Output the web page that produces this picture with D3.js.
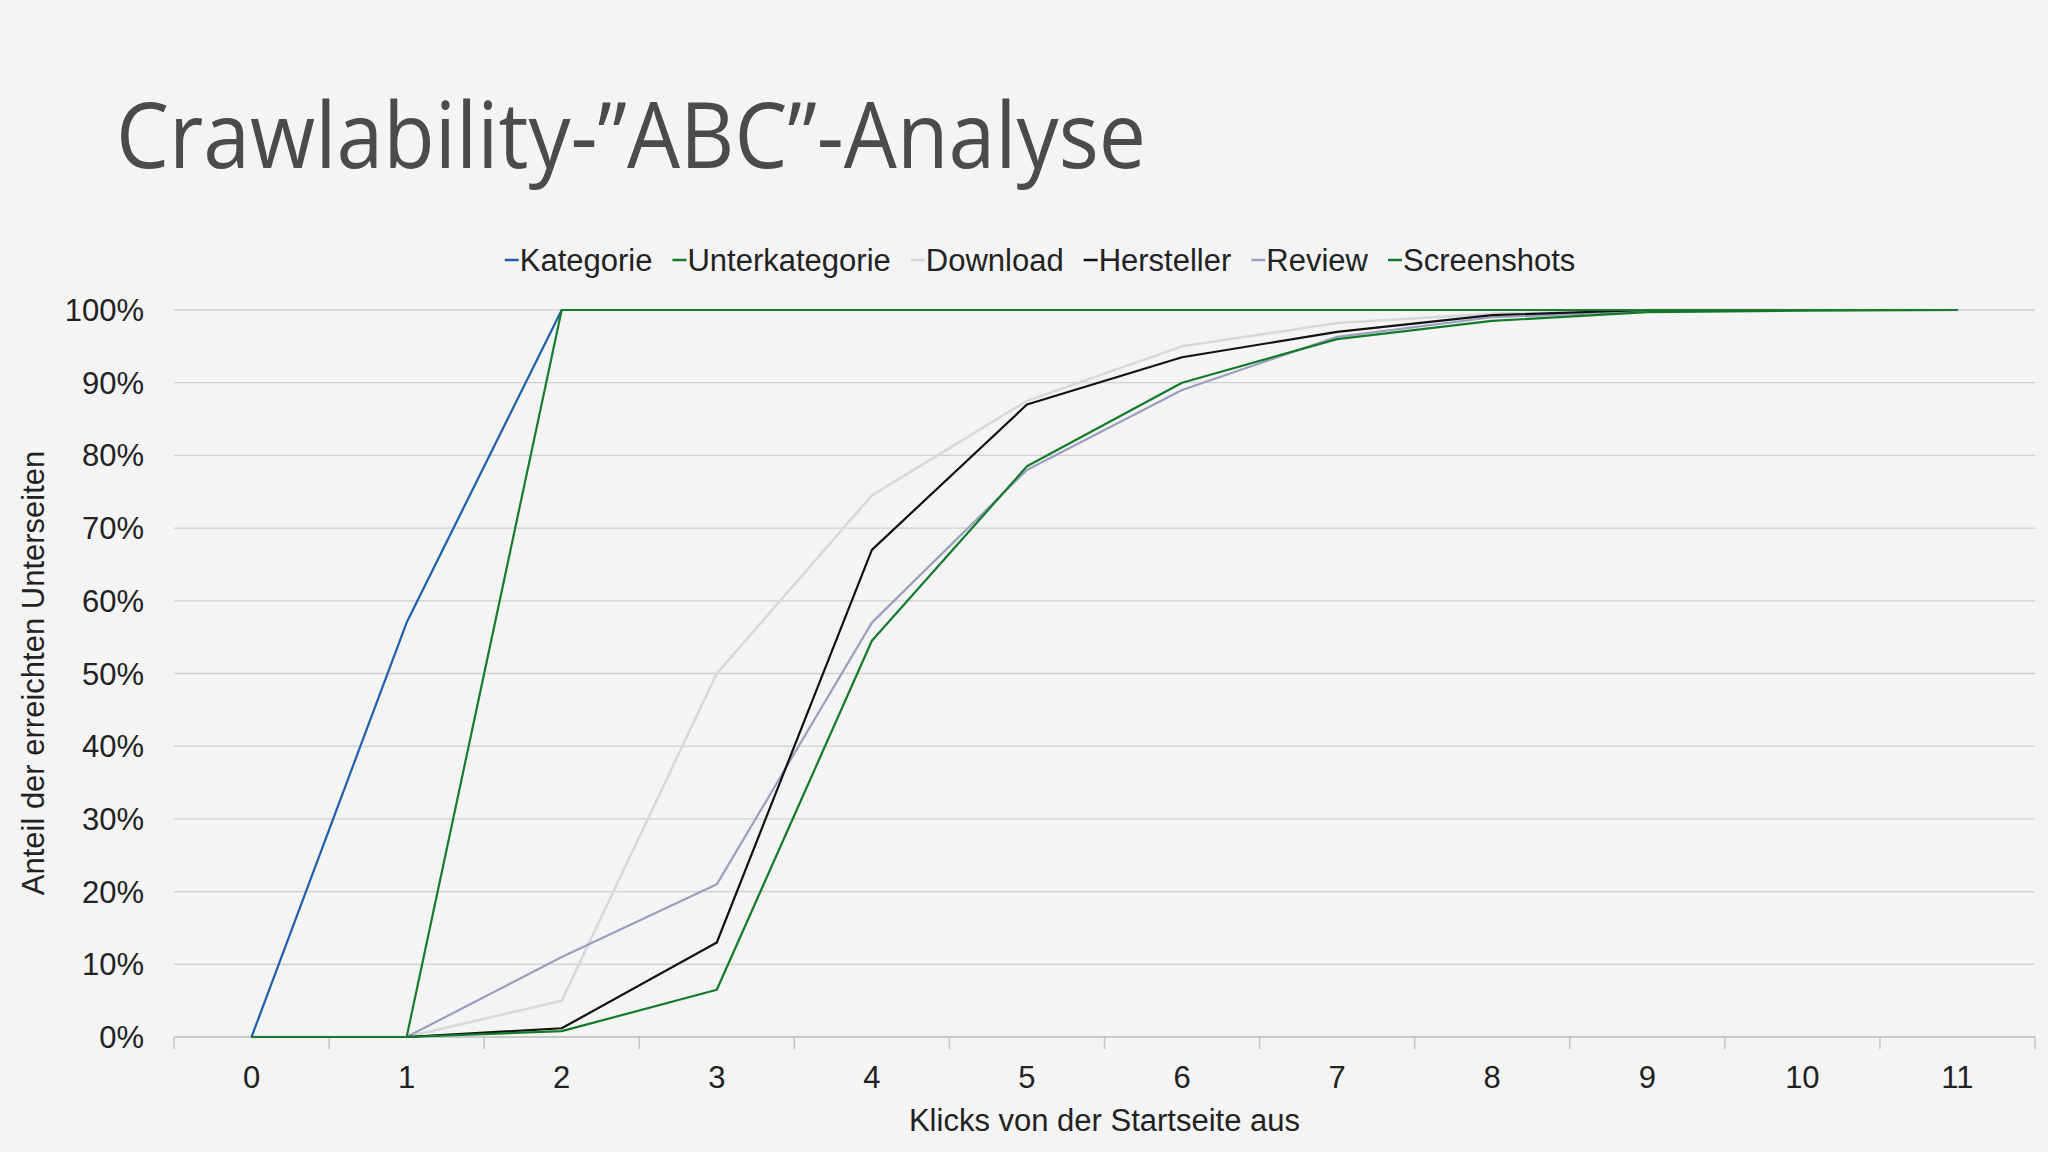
<!DOCTYPE html>
<html><head><meta charset="utf-8">
<script src="https://cdn.jsdelivr.net/npm/d3@7"></script>
<style>body{margin:0;background:#f4f4f4;}svg{display:block;}</style>
</head><body>
<svg id="chart" width="2048" height="1152"></svg>
<script>
// Crawlability chart
const clicks = ['0','1','2','3','4','5','6','7','8','9','10','11'];
const seriesNames = ['Kategorie','Unterkategorie','Download','Hersteller','Review','Screenshots'];
const seriesColors = ['#1f5fa8','#1a7a2e','#d8d8dc','#111111','#9a9fbe','#137a2a'];
const kategorie = [0,57,100,100,100,100,100,100,100,100,100,100];
const unterkategorie = [0,0,100,100,100,100,100,100,100,100,100,100];
const download = [0,0,5,50,74.5,87.5,95,98.2,99.5,100,100,100];
const hersteller = [0,0,1.2,13,67,87,93.5,97,99.3,100,100,100];
const review = [0,0,11,21,57,78,89,96.3,99,99.8,100,100];
const screenshots = [0,0,0.8,6.5,54.5,78.5,90,96,98.5,99.7,99.9,100];
const yTicks = [0,10,20,30,40,50,60,70,80,90,100];

const allSeries = [kategorie, unterkategorie, download, hersteller, review, screenshots];
const drawOrder = [2,4,3,5,0,1];

const svg = d3.select('#chart');
const plotLeft = 174, plotRight = 2035, plotTop = 310, plotBottom = 1037;

svg.append('text').attr('x', 116).attr('y', 168)
  .attr('font-family', 'Open Sans').attr('font-size', 92).attr('fill', '#4b4b4b')
  .attr('textLength', 1030).attr('lengthAdjust', 'spacingAndGlyphs')
  .text('Crawlability-”ABC”-Analyse');

const x = d3.scalePoint().domain(clicks).range([plotLeft, plotRight]).padding(0.5);
const y = d3.scaleLinear().domain([0, 100]).range([plotBottom, plotTop]);

// grid
svg.append('g').selectAll('line').data(yTicks).join('line')
  .attr('x1', plotLeft).attr('x2', plotRight).attr('y1', d => y(d)).attr('y2', d => y(d))
  .attr('stroke', '#cfcfcf').attr('stroke-width', 1.3);

// x axis
const step = x.step();
svg.append('line').attr('x1', plotLeft).attr('x2', plotRight).attr('y1', plotBottom).attr('y2', plotBottom)
  .attr('stroke', '#c4c4c4').attr('stroke-width', 1.5);
svg.append('g').selectAll('line').data(d3.range(clicks.length + 1)).join('line')
  .attr('x1', i => plotLeft + i * step).attr('x2', i => plotLeft + i * step)
  .attr('y1', plotBottom).attr('y2', plotBottom + 12).attr('stroke', '#c4c4c4').attr('stroke-width', 1.5);
svg.append('g').selectAll('text').data(clicks).join('text')
  .attr('x', d => x(d)).attr('y', 1088).attr('text-anchor', 'middle')
  .attr('font-family', 'Liberation Sans').attr('font-size', 31).attr('fill', '#222')
  .text(d => d);

svg.append('g').selectAll('text').data(yTicks).join('text')
  .attr('x', 144).attr('y', d => y(d) + 11).attr('text-anchor', 'end')
  .attr('font-family', 'Liberation Sans').attr('font-size', 31).attr('fill', '#222')
  .text(d => d + '%');

svg.append('text').attr('x', (plotLeft + plotRight) / 2).attr('y', 1131).attr('text-anchor', 'middle')
  .attr('font-family', 'Liberation Sans').attr('font-size', 31).attr('fill', '#222')
  .text('Klicks von der Startseite aus');
svg.append('text').attr('transform', 'translate(44,673) rotate(-90)').attr('text-anchor', 'middle')
  .attr('font-family', 'Liberation Sans').attr('font-size', 31).attr('fill', '#222')
  .text('Anteil der erreichten Unterseiten');

// lines
const line = d3.line().x((d, i) => x(clicks[i])).y(d => y(d));
drawOrder.forEach(k => {
  svg.append('path').datum(allSeries[k]).attr('d', line).attr('fill', 'none')
    .attr('stroke', seriesColors[k]).attr('stroke-width', k === 2 ? 2.5 : 2.2)
    .attr('stroke-linejoin', 'round');
});

// legend
const lg = svg.append('g');
let lx = 0;
seriesNames.forEach((n, k) => {
  const g = lg.append('g').attr('transform', `translate(${lx},0)`);
  g.append('line').attr('x1', 0).attr('x2', 14).attr('y1', 0).attr('y2', 0)
    .attr('stroke', seriesColors[k]).attr('stroke-width', 2.5);
  const t = g.append('text').attr('x', 15).attr('y', 11)
    .attr('font-family', 'Liberation Sans').attr('font-size', 31).attr('fill', '#222').text(n);
  lx += 15 + t.node().getComputedTextLength() + 20;
});
lg.attr('transform', `translate(${1040 - (lx - 20) / 2},260)`);
</script>
</body></html>
